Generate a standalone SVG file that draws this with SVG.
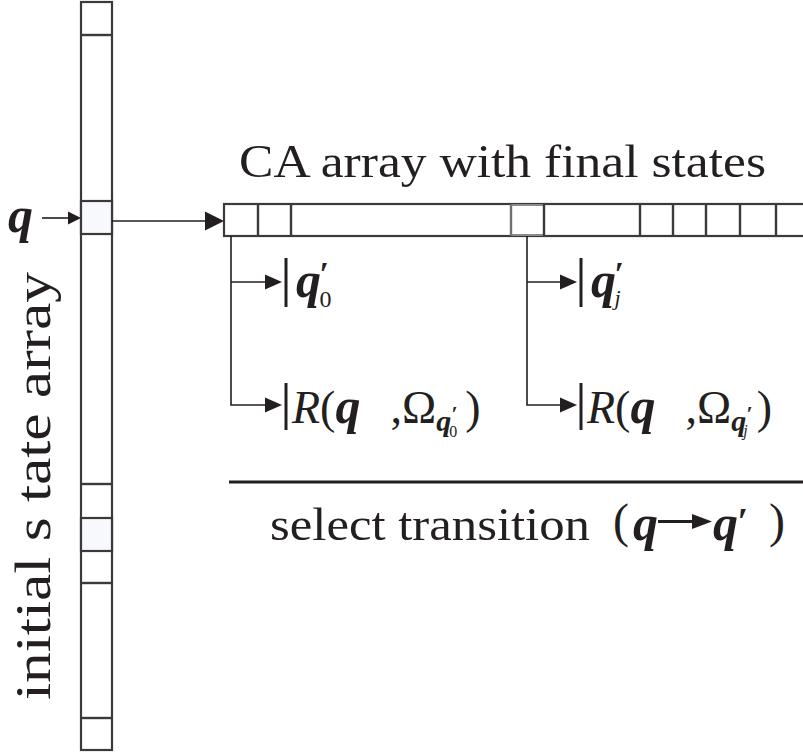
<svg xmlns="http://www.w3.org/2000/svg" width="803" height="753" viewBox="0 0 803 753">
<style>
.box{fill:#fff;stroke:#3a3a3a;stroke-width:2.2}
.hl{fill:#f7f9fd;stroke:#3a3a3a;stroke-width:2.2}
.div{stroke:#3a3a3a;stroke-width:2.4}
.ln{stroke:#231f20;stroke-width:1.6;fill:none}
.bar{stroke:#231f20;stroke-width:3}
.head{fill:#231f20}
.t{font-family:"Liberation Serif","Times New Roman",serif;fill:#231f20}
.qb{font-family:"Liberation Serif","Times New Roman",serif;font-weight:bold;font-style:italic}
.it{font-style:italic}
.rm{font-weight:normal;font-style:normal}
.ri{font-weight:normal;font-style:italic}
</style>
<rect width="803" height="753" fill="#fff"/>

<g id="initial-state-array">
<rect class="box" x="81" y="2" width="31" height="748"/>
<rect class="hl" x="81" y="201" width="31" height="33"/>
<rect class="hl" x="81" y="518" width="31" height="33"/>
<line class="div" x1="81" y1="35" x2="112" y2="35"/>
<line class="div" x1="81" y1="484" x2="112" y2="484"/>
<line class="div" x1="81" y1="583" x2="112" y2="583"/>
<line class="div" x1="81" y1="718" x2="112" y2="718"/>
<text class="t" transform="translate(50,700) rotate(-90)" font-size="50" textLength="428" lengthAdjust="spacingAndGlyphs">initial s tate array</text>
</g>

<g id="q-label">
<text class="t qb" x="8" y="232" font-size="50">q</text>
</g>

<g id="ca-array">
<text class="t" x="239" y="177" font-size="46" textLength="527" lengthAdjust="spacingAndGlyphs">CA array with final states</text>
<rect class="box" x="224" y="204" width="590" height="32"/>
<line x1="511" y1="205" x2="544" y2="205" stroke="#8a8a8a" stroke-width="2"/>
<line x1="511" y1="235" x2="544" y2="235" stroke="#8a8a8a" stroke-width="2"/>
<line x1="511" y1="204" x2="511" y2="236" stroke="#707070" stroke-width="2.4"/>
<line class="div" x1="258" y1="204" x2="258" y2="236"/>
<line class="div" x1="291" y1="204" x2="291" y2="236"/>
<line class="div" x1="544" y1="204" x2="544" y2="236"/>
<line class="div" x1="640" y1="204" x2="640" y2="236"/>
<line class="div" x1="673" y1="204" x2="673" y2="236"/>
<line class="div" x1="706" y1="204" x2="706" y2="236"/>
<line class="div" x1="740" y1="204" x2="740" y2="236"/>
<line class="div" x1="776" y1="204" x2="776" y2="236"/>
</g>

<g id="q0-prime">
<line class="bar" x1="286" y1="258" x2="286" y2="307"/>
<text class="t qb" x="296" y="297" font-size="50">q<tspan font-size="34" dx="-2" dy="-12">′</tspan><tspan class="rm" font-size="24" dx="-9" dy="22">0</tspan></text>
</g>

<g id="R0">
<line class="bar" x1="286" y1="383" x2="286" y2="430"/>
<text class="t" x="292" y="423" font-size="46"><tspan class="it">R</tspan>(<tspan class="qb" font-size="50">q</tspan><tspan dx="30">,Ω</tspan><tspan class="qb" font-size="30" dy="8">q</tspan><tspan class="qb" font-size="22" dx="0" dy="-10">′</tspan><tspan font-size="16" dx="-8" dy="16">0</tspan><tspan dx="8" dy="-14">)</tspan></text>
</g>

<g id="qj-prime">
<line class="bar" x1="581" y1="258" x2="581" y2="307"/>
<text class="t qb" x="591" y="297" font-size="50">q<tspan font-size="34" dx="-2" dy="-12">′</tspan><tspan class="ri" font-size="22" dx="-9" dy="20">j</tspan></text>
</g>

<g id="Rj">
<line class="bar" x1="581" y1="383" x2="581" y2="430"/>
<text class="t" x="587" y="423" font-size="46"><tspan class="it">R</tspan>(<tspan class="qb" font-size="50">q</tspan><tspan dx="30">,Ω</tspan><tspan class="qb" font-size="30" dy="8">q</tspan><tspan class="qb" font-size="22" dx="0" dy="-10">′</tspan><tspan class="ri" font-size="16" dx="-9" dy="15">j</tspan><tspan dx="9" dy="-13">)</tspan></text>
</g>

<g id="select-transition">
<line x1="229" y1="482" x2="803" y2="482" stroke="#231f20" stroke-width="3"/>
<text class="t" x="270" y="540" font-size="46" textLength="320" lengthAdjust="spacingAndGlyphs">select transition</text>
<text class="t" x="613" y="537" font-size="48">(<tspan class="qb" font-size="50" dx="4" dy="3">q</tspan></text>
<line x1="658" y1="521.5" x2="695" y2="521.5" stroke="#231f20" stroke-width="3"/>
<polygon class="head" points="692,514 712,521.5 692,529"/>
<text class="t qb" x="713" y="540" font-size="50">q<tspan font-size="38" dx="-1" dy="-6">′</tspan></text>
<text class="t" x="769" y="537" font-size="48">)</text>
</g>

<g id="connectors">
<line class="ln" x1="42" y1="218" x2="70" y2="218" stroke-width="2.4"/>
<polygon class="head" points="68,211.5 81,218 68,224.5"/>
<line class="ln" x1="112" y1="221" x2="207" y2="221"/>
<polygon class="head" points="205,211.5 224,221 205,230.5"/>
<polyline class="ln" points="231,236 231,405 268,405"/>
<line class="ln" x1="231" y1="282" x2="268" y2="282"/>
<polygon class="head" points="265,274.5 282,282 265,289.5"/>
<polygon class="head" points="265,397.5 282,405 265,412.5"/>
<polyline class="ln" points="527,236 527,405 563,405"/>
<line class="ln" x1="527" y1="282" x2="563" y2="282"/>
<polygon class="head" points="560,274.5 577,282 560,289.5"/>
<polygon class="head" points="560,397.5 577,405 560,412.5"/>
</g>
</svg>
